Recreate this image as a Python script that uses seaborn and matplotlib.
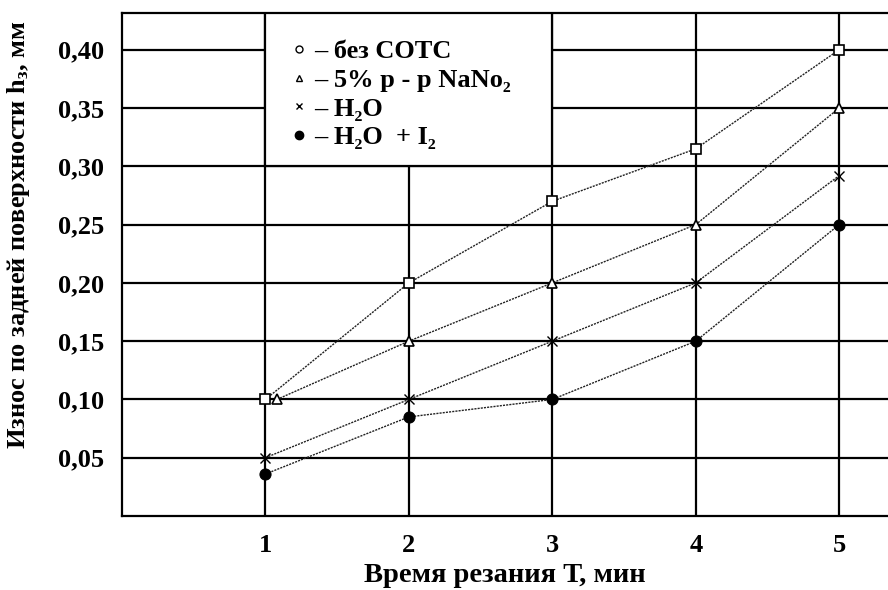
import pandas as pd
import matplotlib.pyplot as plt
import seaborn as sns
import numpy as np
from matplotlib.lines import Line2D
from matplotlib.patches import Rectangle

# data
t_min = [1, 2, 3, 4, 5]
t_nano2 = [1.08, 2, 3, 4, 5]
wear_dry = [0.10, 0.20, 0.27, 0.315, 0.40]
wear_nano2 = [0.10, 0.15, 0.20, 0.25, 0.35]
wear_h2o = [0.05, 0.10, 0.15, 0.20, 0.292]
wear_h2o_i2 = [0.036, 0.085, 0.10, 0.15, 0.25]

labels = ['– без СОТС', '– 5% р - р NaNo₂', '– H₂O', '– H₂O  + I₂']
yticks = [0.05, 0.10, 0.15, 0.20, 0.25, 0.30, 0.35, 0.40]

sns.set_style('white')
plt.rcParams['font.family'] = ['Liberation Serif', 'DejaVu Serif']
plt.rcParams['font.weight'] = 'bold'
plt.rcParams['text.color'] = 'black'
plt.rcParams['axes.labelcolor'] = 'black'
plt.rcParams['xtick.color'] = 'black'
plt.rcParams['ytick.color'] = 'black'
plt.rcParams['mathtext.fontset'] = 'custom'
plt.rcParams['mathtext.rm'] = 'Liberation Serif:bold'
plt.rcParams['mathtext.it'] = 'Liberation Serif:bold'
plt.rcParams['mathtext.bf'] = 'Liberation Serif:bold'

fig = plt.figure(figsize=(8.88, 5.90), dpi=100)
ax = fig.add_axes([122 / 888, 74 / 590, 766 / 888, 503 / 590])

line_kw = dict(color='#222222', linewidth=1.0, linestyle=(0, (1.5, 0.8)), ax=ax, sort=False)
sns.lineplot(x=t_min, y=wear_dry, marker='s', markersize=7, markerfacecolor='white',
             markeredgecolor='black', markeredgewidth=1.2, **line_kw)
sns.lineplot(x=t_nano2, y=wear_nano2, marker='^', markersize=7, markerfacecolor='white',
             markeredgecolor='black', markeredgewidth=1.2, **line_kw)
sns.lineplot(x=t_min, y=wear_h2o, marker='x', markersize=7,
             markeredgecolor='black', markeredgewidth=1.0, **line_kw)
sns.lineplot(x=t_min, y=wear_h2o_i2, marker='o', markersize=8, markerfacecolor='black',
             markeredgecolor='black', **line_kw)

ax.set_xlim(0, 5.34)
ax.set_ylim(0, 0.4315)
ax.set_xticks(t_min)
ax.set_xticklabels([str(v) for v in t_min])
ax.set_yticks(yticks)
ax.set_yticklabels([f'{v:.2f}'.replace('.', ',') for v in yticks])
ax.grid(True, color='black', linewidth=1.6)
ax.set_axisbelow(True)
for s in ['left', 'bottom', 'top']:
    ax.spines[s].set_color('black')
    ax.spines[s].set_linewidth(1.6)
ax.spines['right'].set_visible(False)
ax.tick_params(axis='both', direction='out', length=9, width=1.6, color='black',
               labelsize=19, pad=4)

# white box behind the key
ax.add_patch(Rectangle((1, 0.30), 2, 0.2, facecolor='white', edgecolor='black',
                       linewidth=1.6, zorder=1.5))

handles = [
    Line2D([], [], linestyle='none', marker='o', markersize=5, markerfacecolor='white', markeredgecolor='black'),
    Line2D([], [], linestyle='none', marker='^', markersize=5, markerfacecolor='white', markeredgecolor='black'),
    Line2D([], [], linestyle='none', marker='x', markersize=5, markeredgecolor='black'),
    Line2D([], [], linestyle='none', marker='o', markersize=6, markerfacecolor='black', markeredgecolor='black'),
]
leg = ax.legend(handles, labels, loc='upper left', bbox_to_anchor=(0.209, 0.968),
                frameon=False, fontsize=19, handlelength=0.5, handletextpad=0.3,
                labelspacing=0.2, borderaxespad=0)

ax.set_xlabel('Время резания Т, мин', fontsize=20.5, fontweight='bold', labelpad=4)
ax.set_ylabel('Износ по задней поверхности $\\mathrm{h_{з}}$, мм', fontsize=19,
              fontweight='bold')
ax.yaxis.set_label_coords(-0.118, 0.559)

fig.savefig('out.png', dpi=100)
